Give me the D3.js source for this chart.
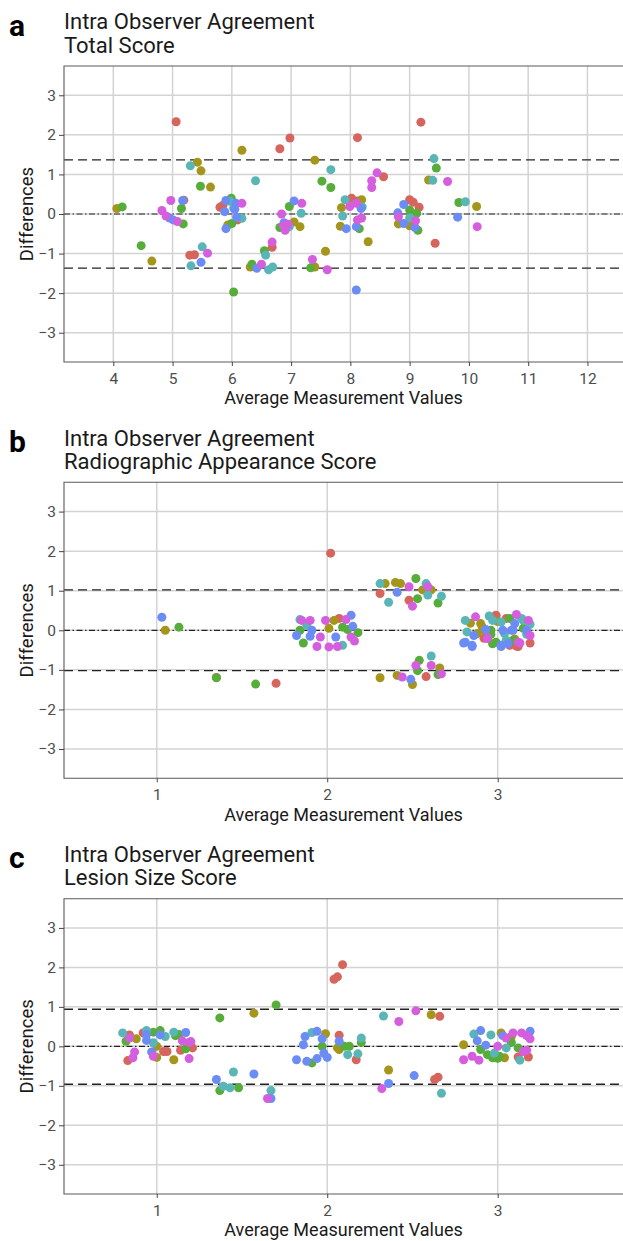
<!DOCTYPE html>
<html>
<head>
<meta charset="utf-8">
<title>Intra Observer Agreement</title>
<script src="https://d3js.org/d3.v7.min.js"></script>
<style>
  body { margin: 0; background: #fff; }
  text { font-family: Roboto, "Noto Sans", sans-serif; }
</style>
</head>
<body>
<div id="chart"></div>
<script>
// ---- data: [average, difference] per rater colour ----
// a) Total Score
const totalRed = [[5.06,2.33],[5.19,0.35],[5.29,-1.04],[5.37,-1.03],[5.80,0.17],[5.85,0.22],[6.10,-0.15],[6.68,-0.84],[6.81,1.65],[6.98,1.92],[8.02,0.40],[8.12,1.93],[8.56,0.94],[8.12,0.33],[9.00,0.36],[9.06,0.30],[9.16,0.17],[9.19,2.32],[9.43,-0.74]];
const totalOlive = [[4.06,0.14],[4.65,-1.19],[5.42,1.31],[5.48,1.09],[5.64,0.68],[5.93,-0.28],[6.17,1.61],[6.31,-1.34],[7.05,-0.20],[7.15,-0.32],[7.40,1.36],[7.40,-1.34],[7.58,-0.94],[7.85,0.16],[7.83,-0.31],[8.19,0.36],[8.30,-0.70],[8.81,-0.25],[9.00,-0.30],[9.32,0.86],[10.13,0.19]];
const totalGreen = [[4.15,0.18],[4.47,-0.80],[5.15,0.14],[5.18,-0.25],[5.47,0.70],[5.99,0.40],[6.00,-0.24],[6.03,-1.97],[6.34,-1.27],[6.55,-0.93],[6.81,-0.34],[6.97,0.19],[7.33,-1.36],[7.52,0.83],[7.67,0.67],[8.15,-0.37],[9.00,0.10],[9.12,0.02],[9.14,-0.41],[9.45,1.16],[9.83,0.29]];
const totalTeal = [[5.30,1.22],[5.31,-1.31],[5.50,-0.83],[6.03,0.15],[5.97,0.32],[6.17,-0.11],[6.40,0.84],[6.57,-1.04],[6.62,-1.41],[6.69,-1.34],[6.97,-0.32],[7.17,0.02],[7.67,1.12],[7.91,0.36],[7.87,-0.05],[8.20,0.18],[9.00,-0.10],[9.39,0.85],[9.41,1.40],[9.94,0.31]];
const totalBlue = [[4.95,-0.10],[5.01,-0.15],[5.17,0.34],[5.48,-1.22],[5.90,0.34],[6.07,0.27],[5.88,0.06],[6.05,0.12],[6.08,-0.08],[5.90,-0.37],[6.42,-1.37],[6.88,-0.22],[7.05,0.33],[7.93,-0.37],[8.18,0.14],[8.10,-0.32],[8.10,-1.92],[8.90,0.24],[8.80,0.03],[8.90,-0.24],[9.09,-0.34],[9.81,-0.08]];
const totalMagenta = [[4.82,0.09],[4.89,-0.05],[4.97,0.34],[5.08,-0.19],[5.59,-0.99],[6.17,0.27],[6.50,-1.27],[6.68,-0.71],[6.84,0.00],[6.87,-0.30],[6.95,-0.26],[6.90,-0.41],[7.18,0.27],[7.36,-1.15],[7.61,-1.41],[7.99,0.19],[8.10,0.27],[8.12,-0.15],[8.19,-0.10],[8.36,0.84],[8.36,0.67],[8.45,1.04],[8.81,-0.07],[9.10,-0.17],[9.64,0.82],[10.14,-0.32]];
const totalLoA = [-1.37, 1.37];
const totalBias = 0;

// b) Radiographic Appearance Score
const radioRed = [[1.35,-1.19],[1.70,-1.34],[2.07,0.30],[2.02,1.95],[2.31,0.93],[2.48,0.76],[2.58,-1.17],[2.99,0.38],[2.99,0.36],[3.07,-0.38],[3.11,-0.40],[3.12,-0.41],[3.19,-0.32],[2.92,-0.20],[3.05,0.30]];
const radioOlive = [[1.05,0.00],[2.04,0.25],[2.01,0.05],[2.34,1.18],[2.40,1.21],[2.43,1.18],[2.56,1.02],[2.61,1.02],[2.31,-1.20],[2.41,-1.14],[2.50,-1.37],[2.66,-0.95],[2.84,0.18],[2.90,0.17],[2.92,0.00],[2.88,-0.08],[2.91,0.08],[3.00,0.22],[3.10,-0.22]];
const radioGreen = [[1.13,0.08],[1.35,-1.20],[1.58,-1.36],[1.84,0.00],[1.86,-0.32],[2.09,0.08],[2.18,-0.06],[2.12,0.02],[2.52,1.31],[2.53,0.80],[2.65,0.69],[2.54,-0.76],[2.53,-1.02],[2.65,-1.12],[2.99,-0.30],[2.96,-0.10],[3.07,0.30],[2.97,-0.34],[2.96,0.00],[3.09,-0.25],[3.15,0.05]];
const radioTeal = [[1.84,0.27],[1.88,0.12],[2.09,-0.38],[2.31,1.18],[2.36,0.71],[2.58,1.18],[2.59,0.89],[2.67,0.86],[2.61,-0.65],[2.81,0.25],[2.82,-0.04],[2.95,0.36],[2.97,0.25],[3.02,0.21],[3.05,-0.25],[3.15,0.25],[3.17,-0.10],[3.14,0.30],[3.19,0.15],[3.04,-0.08]];
const radioBlue = [[1.03,0.33],[1.82,-0.13],[1.90,-0.15],[1.91,0.00],[2.05,-0.17],[2.14,0.38],[2.15,0.10],[2.41,0.96],[2.49,-1.24],[2.81,-0.30],[2.85,-0.38],[2.86,-0.13],[2.93,0.02],[3.10,0.17],[3.03,0.00],[3.08,0.00],[3.02,-0.38],[3.17,0.00],[2.80,-0.32],[3.09,0.00],[3.06,-0.34],[2.85,-0.41],[3.02,-0.41]];
const radioMagenta = [[1.85,0.25],[1.90,0.25],[1.99,0.25],[1.94,-0.41],[1.96,-0.17],[2.01,-0.42],[2.06,-0.41],[2.11,0.27],[2.14,-0.17],[2.16,-0.27],[2.48,1.10],[2.59,1.10],[2.50,0.61],[2.52,-0.89],[2.61,-0.89],[2.67,-1.10],[2.44,-1.18],[2.87,0.34],[2.94,-0.21],[3.11,0.40],[3.12,-0.30],[3.18,0.25],[3.19,-0.13],[3.13,-0.32],[2.94,-0.19]];
const radioLoA = [-1.02, 1.02];
const radioBias = 0;

// c) Lesion Size Score
const lesionRed = [[0.84,0.29],[0.92,0.34],[0.83,-0.36],[1.04,-0.13],[1.06,-0.13],[1.14,-0.10],[1.21,-0.04],[2.04,1.70],[2.06,1.76],[2.09,2.07],[2.07,0.28],[2.17,-0.34],[2.66,0.76],[2.63,-0.84],[2.65,-0.78],[3.12,-0.27],[3.18,-0.27]];
const lesionOlive = [[0.88,0.19],[1.00,-0.28],[1.00,0.00],[1.10,-0.34],[1.57,0.84],[1.99,0.32],[2.07,-0.08],[2.06,-0.04],[2.61,0.80],[2.36,-0.60],[2.80,0.04],[3.04,-0.29],[3.02,0.34],[3.08,0.25]];
const lesionGreen = [[0.82,0.13],[0.98,0.36],[1.02,0.40],[1.11,0.27],[1.17,-0.06],[1.13,0.30],[1.37,0.72],[1.70,1.05],[1.37,-1.12],[1.48,-1.05],[1.97,0.00],[1.91,-0.42],[2.10,0.00],[2.13,0.00],[2.20,0.10],[2.90,-0.08],[2.97,-0.29],[3.01,-0.25],[2.94,-0.21],[3.12,-0.04],[3.08,0.10],[3.00,-0.30]];
const lesionTeal = [[0.80,0.34],[0.94,0.40],[0.98,0.09],[1.05,0.25],[1.10,0.36],[1.39,-1.01],[1.43,-1.05],[1.45,-0.65],[1.67,-1.12],[1.91,0.35],[2.12,-0.21],[2.18,-0.19],[2.20,0.21],[2.33,0.77],[2.67,-1.19],[2.86,0.31],[2.96,0.29],[2.98,-0.17],[3.05,-0.04],[3.13,-0.35]];
const lesionBlue = [[0.94,0.30],[0.94,0.15],[0.97,-0.14],[1.02,0.29],[1.17,0.35],[1.35,-0.84],[1.57,-0.70],[1.67,-1.32],[1.87,0.25],[1.94,0.38],[1.97,0.19],[1.86,0.04],[1.82,-0.34],[1.88,-0.38],[1.94,-0.31],[1.98,-0.17],[2.00,-0.28],[2.07,0.13],[2.36,-0.94],[2.51,-0.74],[2.90,0.40],[2.88,0.14],[2.93,0.03],[3.03,0.27],[3.19,0.38]];
const lesionMagenta = [[0.84,0.21],[0.86,-0.29],[0.87,-0.14],[0.98,-0.25],[1.15,0.14],[1.19,0.10],[1.20,0.12],[1.19,-0.31],[1.65,-1.32],[2.42,0.63],[2.52,0.90],[2.32,-1.07],[2.80,-0.34],[2.85,-0.25],[2.89,-0.35],[3.00,0.00],[3.05,0.21],[3.09,0.34],[3.14,0.34],[3.17,0.27],[3.19,0.19],[3.15,-0.13],[3.17,-0.10]];
const lesionLoA = [-0.96, 0.94];
const lesionBias = 0;

const totalTicks = [4, 5, 6, 7, 8, 9, 10, 11, 12];
const scoreTicks = [1, 2, 3];
const diffTicks = [-3, -2, -1, 0, 1, 2, 3];

const colours = ["#D6655D", "#A5951B", "#56AD3A", "#5AB5B7", "#6C8CF5", "#D45EDD"];

// ---- layout ----
const W = 623, H = 1241;
const left = 64, right = 623;

const panels = [
  { letter: "a", sub: "Total Score", top: 66, bottom: 362, xDomain: [3.168, 12.6], xTicks: totalTicks,
    series: [totalRed, totalOlive, totalGreen, totalTeal, totalBlue, totalMagenta], loa: totalLoA, bias: totalBias },
  { letter: "b", sub: "Radiographic Appearance Score", top: 482.3, bottom: 778.3, xDomain: [0.456, 3.735], xTicks: scoreTicks,
    series: [radioRed, radioOlive, radioGreen, radioTeal, radioBlue, radioMagenta], loa: radioLoA, bias: radioBias },
  { letter: "c", sub: "Lesion Size Score", top: 898.7, bottom: 1194, xDomain: [0.456, 3.735], xTicks: scoreTicks,
    series: [lesionRed, lesionOlive, lesionGreen, lesionTeal, lesionBlue, lesionMagenta], loa: lesionLoA, bias: lesionBias }
];

const svg = d3.select("#chart").append("svg")
    .attr("width", W)
    .attr("height", H);

panels.forEach(function(p, i) {
  const x = d3.scaleLinear().domain(p.xDomain).range([left, right]);
  const y = d3.scaleLinear().domain([-3.74, 3.74]).range([p.bottom, p.top]);
  const g = svg.append("g");

  // clip
  const clipId = "clip" + i;
  svg.append("clipPath").attr("id", clipId)
    .append("rect").attr("x", left).attr("y", p.top).attr("width", right - left).attr("height", p.bottom - p.top);

  // grid
  g.selectAll(".gx").data(p.xTicks).enter().append("line")
      .attr("x1", d => x(d)).attr("x2", d => x(d))
      .attr("y1", p.top).attr("y2", p.bottom)
      .attr("stroke", "#d3d3d3").attr("stroke-width", 1.5);
  g.selectAll(".gy").data(diffTicks).enter().append("line")
      .attr("x1", left).attr("x2", right)
      .attr("y1", d => y(d)).attr("y2", d => y(d))
      .attr("stroke", "#d3d3d3").attr("stroke-width", 1.5);

  // limits of agreement and bias
  g.selectAll(".loa").data(p.loa).enter().append("line")
      .attr("x1", left).attr("x2", right)
      .attr("y1", d => y(d)).attr("y2", d => y(d))
      .attr("stroke", "#222").attr("stroke-width", 1.3)
      .attr("stroke-dasharray", "9,5");
  g.append("line")
      .attr("x1", left).attr("x2", right)
      .attr("y1", y(p.bias)).attr("y2", y(p.bias))
      .attr("stroke", "#222").attr("stroke-width", 1.2)
      .attr("stroke-dasharray", "6,2.5,1.5,2.5");

  // points
  const pts = g.append("g").attr("clip-path", "url(#" + clipId + ")");
  p.series.forEach(function(s, k) {
    pts.selectAll(null).data(s).enter().append("circle")
        .attr("cx", d => x(d[0]))
        .attr("cy", d => y(d[1]))
        .attr("r", 4.5)
        .attr("fill", colours[k]);
  });

  // border (left / top / bottom, right edge runs off the image)
  g.append("path")
      .attr("d", "M" + right + "," + p.top + "H" + left + "V" + p.bottom + "H" + right)
      .attr("fill", "none").attr("stroke", "#5a5a5a").attr("stroke-width", 1.1);

  // axes
  const yAxis = d3.axisLeft(y).tickValues(diffTicks).tickSize(5).tickPadding(3).tickFormat(d3.format("d"));
  const xAxis = d3.axisBottom(x).tickValues(p.xTicks).tickSize(4).tickPadding(6.5).tickFormat(d3.format("d"));
  const ya = g.append("g").attr("transform", "translate(" + left + ",0)").call(yAxis);
  const xa = g.append("g").attr("transform", "translate(0," + p.bottom + ")").call(xAxis);
  [ya, xa].forEach(function(a) {
    a.select(".domain").remove();
    a.selectAll("line").attr("stroke", "#444");
    a.selectAll("text").attr("font-family", "Roboto").attr("font-size", "15.5px").attr("fill", "#4d4d4d");
  });

  // axis titles
  g.append("text")
      .attr("x", (left + right) / 2).attr("y", p.bottom + 42.3)
      .attr("text-anchor", "middle").attr("font-size", "18px").attr("fill", "#1a1a1a")
      .text("Average Measurement Values");
  g.append("text")
      .attr("transform", "translate(32.5," + ((p.top + p.bottom) / 2) + ") rotate(-90)")
      .attr("text-anchor", "middle").attr("font-size", "18.5px").attr("fill", "#1a1a1a")
      .text("Differences");

  // panel title
  g.append("text")
      .attr("x", left).attr("y", p.top - 36.7)
      .attr("font-size", "22px").attr("fill", "#1a1a1a")
      .text("Intra Observer Agreement");
  g.append("text")
      .attr("x", left).attr("y", p.top - 13.5)
      .attr("font-size", "22px").attr("fill", "#1a1a1a")
      .text(p.sub);
  g.append("text")
      .attr("x", 9).attr("y", p.top - 30.5)
      .attr("font-family", "Liberation Sans, Arial, sans-serif")
      .attr("font-weight", "bold").attr("font-size", "30px").attr("fill", "#000")
      .text(p.letter);
});
</script>
</body>
</html>
